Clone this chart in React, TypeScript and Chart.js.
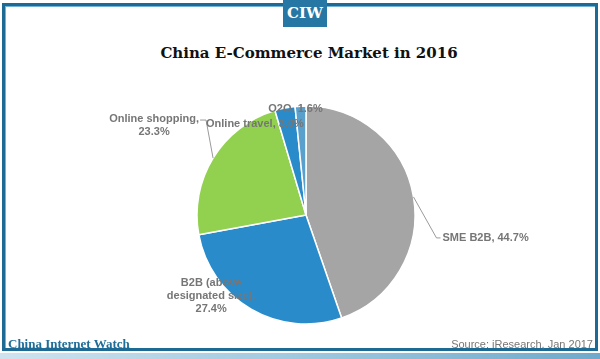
import React, { useEffect, useRef } from "react";
import { Chart, registerables } from "chart.js";

Chart.register(...registerables);

const categories = ["SME B2B", "B2B (above designated size)", "Online shopping", "Online travel", "O2O"];
const shares = [44.7, 27.4, 23.3, 3.0, 1.6];
const sliceColors = ["#a5a5a5", "#2a8bcb", "#92d050", "#2a8bcb", "#5aa0cc"];
const labelLines = [
  ["SME B2B, 44.7%"],
  ["B2B (above", "designated size),", "27.4%"],
  ["Online shopping,", "23.3%"],
  ["Online travel, 3.0%"],
  ["O2O, 1.6%"],
];

// label layout: offsets from the slice's outer-edge midpoint
const labelLayout = [
  { dx: 29, dy: 41, align: "left", leader: [[23, 41], [27, 41]] },
  { dx: -40, dy: -26, align: "center", leader: null },
  { dx: -59, dy: -39, align: "center", leader: [[-7, -38], [-13, -38]] },
  { dx: -30, dy: 16, align: "center", leader: null },
  { dx: -5, dy: 3, align: "center", leader: null },
];

const labelPlugin = {
  id: "pieLabels",
  afterDatasetsDraw(chart: any) {
    const ctx = chart.ctx;
    const meta = chart.getDatasetMeta(0);
    ctx.save();
    meta.data.forEach((arc: any, i: number) => {
      const mid = (arc.startAngle + arc.endAngle) / 2;
      const ex = arc.x + arc.outerRadius * Math.cos(mid);
      const ey = arc.y + arc.outerRadius * Math.sin(mid);
      const lay = labelLayout[i];
      if (lay.leader) {
        ctx.strokeStyle = "#9a9a9a";
        ctx.lineWidth = 1;
        ctx.beginPath();
        ctx.moveTo(ex, ey);
        lay.leader.forEach((p: number[]) => ctx.lineTo(ex + p[0], ey + p[1]));
        ctx.stroke();
      }
      ctx.fillStyle = "#767676";
      ctx.font = "bold 11px 'Liberation Sans', Arial, sans-serif";
      ctx.textAlign = lay.align;
      ctx.textBaseline = "middle";
      const lines = labelLines[i];
      const lh = 13;
      lines.forEach((t, k) => {
        ctx.fillText(t, ex + lay.dx, ey + lay.dy + k * lh);
      });
    });
    ctx.restore();
  },
};

export default function App() {
  const ref = useRef<HTMLCanvasElement>(null);
  useEffect(() => {
    const chart = new Chart(ref.current!, {
      type: "pie",
      data: {
        labels: categories,
        datasets: [
          {
            data: shares,
            backgroundColor: sliceColors,
            borderColor: "#ffffff",
            borderWidth: 1.5,
            radius: 109,
          },
        ],
      },
      options: {
        animation: false,
        responsive: false,
        maintainAspectRatio: false,
        layout: { padding: { left: 100, right: 88, top: 90, bottom: 19 } },
        plugins: {
          legend: { display: false },
          tooltip: { enabled: false },
          title: { display: false },
        },
      },
      plugins: [labelPlugin],
    });
    return () => chart.destroy();
  }, []);

  return (
    <div style={{ position: "fixed", left: 0, top: 0, width: 600, height: 359, background: "#fff", overflow: "hidden" }}>
      {/* frame */}
      <div style={{ position: "absolute", left: 2, top: 3, width: 590, height: 342, border: "3px solid #1d6a94", boxShadow: "inset 1px 1px 0 #6fb3d8" }} />
      <div style={{ position: "absolute", left: 0, top: 353, width: 600, height: 6, background: "linear-gradient(90deg, #cfe3ef, #9fc8df 50%, #6fa9cb)" }} />
      {/* badge */}
      <div style={{ position: "absolute", left: 283, top: 0, width: 44, height: 27, background: "#2677a3", color: "#fff", fontFamily: "'DejaVu Serif', 'Liberation Serif', serif", fontWeight: "bold", fontSize: 15, textAlign: "center", lineHeight: "27px" }}>CIW</div>
      {/* title */}
      <div style={{ position: "absolute", left: 9, top: 40, width: 600, textAlign: "center", fontFamily: "'DejaVu Serif', 'Liberation Serif', serif", fontWeight: "bold", fontSize: 15, lineHeight: "26px", color: "#111" }}>China E-Commerce Market in 2016</div>
      <canvas ref={ref} width={600} height={359} style={{ position: "absolute", left: 0, top: 0 }} />
      {/* footer */}
      <div style={{ position: "absolute", left: 8, top: 335, fontFamily: "'Liberation Serif', serif", fontWeight: "bold", fontSize: 13, color: "#1f6d99", lineHeight: "18px" }}>China Internet Watch</div>
      <div style={{ position: "absolute", right: 7, top: 336, fontFamily: "'Liberation Sans', Arial, sans-serif", fontSize: 11, color: "#777", lineHeight: "16px" }}>Source: iResearch, Jan 2017</div>
    </div>
  );
}
